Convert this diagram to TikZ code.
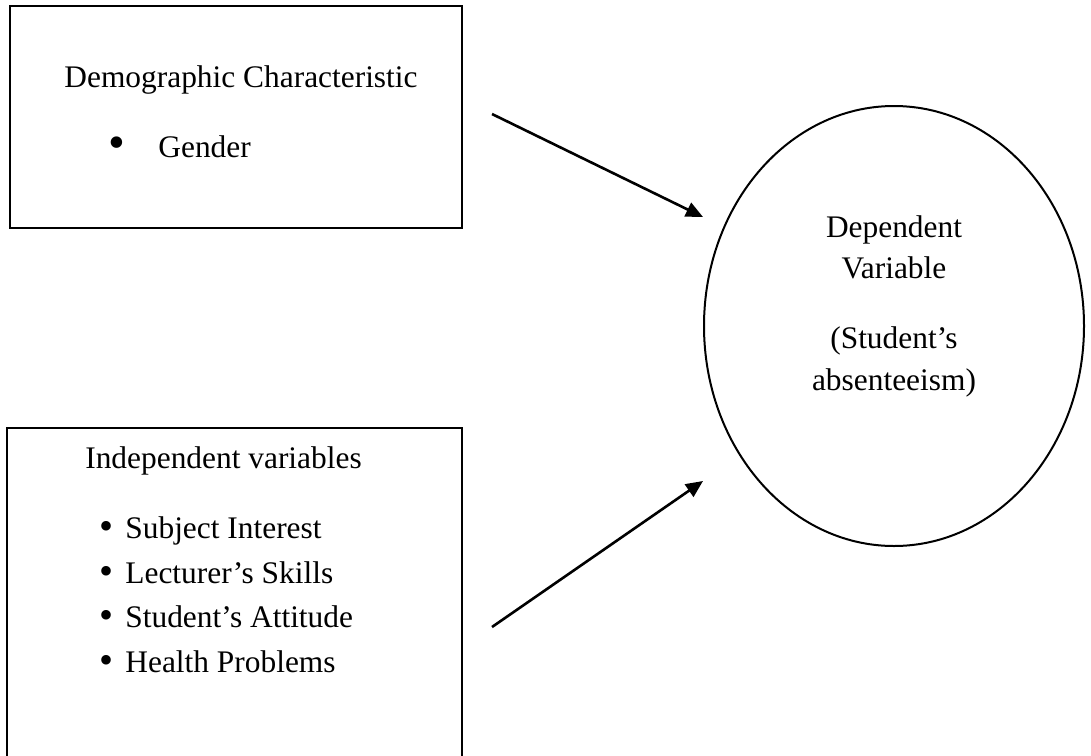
\documentclass[tikz,border=0pt]{standalone}
\usepackage{fontspec}
\setmainfont{Liberation Serif}
\usetikzlibrary{shapes.geometric,arrows.meta}
\begin{document}
\begin{tikzpicture}[x=0.5pt,y=-0.5pt,
  box/.style={draw, line width=0.75pt, inner sep=0pt, outer sep=0pt},
  oval/.style={draw, ellipse, line width=1pt, inner sep=0pt, outer sep=0pt},
  txt/.style={font=\fontsize{15.7pt}{18pt}\selectfont, anchor=base, inner sep=0pt},
  bigdot/.style={font=\fontsize{24pt}{24pt}\selectfont, anchor=center, inner sep=0pt},
  dot/.style={font=\fontsize{20pt}{20pt}\selectfont, anchor=center, inner sep=0pt},
  link/.style={-{Triangle[length=8.5pt,width=7.5pt]}, line width=1.3pt}]
\useasboundingbox (0,0) rectangle (1091,755);
% boxes
\node[box, minimum width=226pt, minimum height=111pt] (demo) at (236,117) {};
\node[box, minimum width=227.5pt, minimum height=171pt] (indep) at (234.5,599) {};
\node[oval, minimum width=190pt, minimum height=220pt] (dep) at (894,326) {};
% box 1 text
\node[txt] (demotitle) at (241,87) {Demographic Characteristic};
\node[bigdot] (b0) at (117,148) {•};
\node[txt, anchor=base west] (gender) at (158,157) {Gender};
% box 2 text
\node[txt] (indtitle) at (223.5,468) {Independent variables};
\node[dot] (b1) at (107,530) {•};
\node[txt, anchor=base west] (i1) at (125,538) {Subject Interest};
\node[dot] (b2) at (107,575) {•};
\node[txt, anchor=base west] (i2) at (125,583) {Lecturer’s Skills};
\node[dot] (b3) at (107,619) {•};
\node[txt, anchor=base west] (i3) at (125,627) {Student’s Attitude};
\node[dot] (b4) at (107,664) {•};
\node[txt, anchor=base west] (i4) at (125,672) {Health Problems};
% ellipse text
\node[txt] (d1) at (894,237) {Dependent};
\node[txt] (d2) at (894,278) {Variable};
\node[txt] (d3) at (894,348) {(Student’s};
\node[txt] (d4) at (894,390) {absenteeism)};
% arrows
\coordinate (a1s) at (492,114);
\coordinate (a1e) at (703,217);
\coordinate (a2s) at (492,627);
\coordinate (a2e) at (703,481);
\draw[link] (a1s) -- (a1e);
\draw[link] (a2s) -- (a2e);
\end{tikzpicture}
\end{document}
